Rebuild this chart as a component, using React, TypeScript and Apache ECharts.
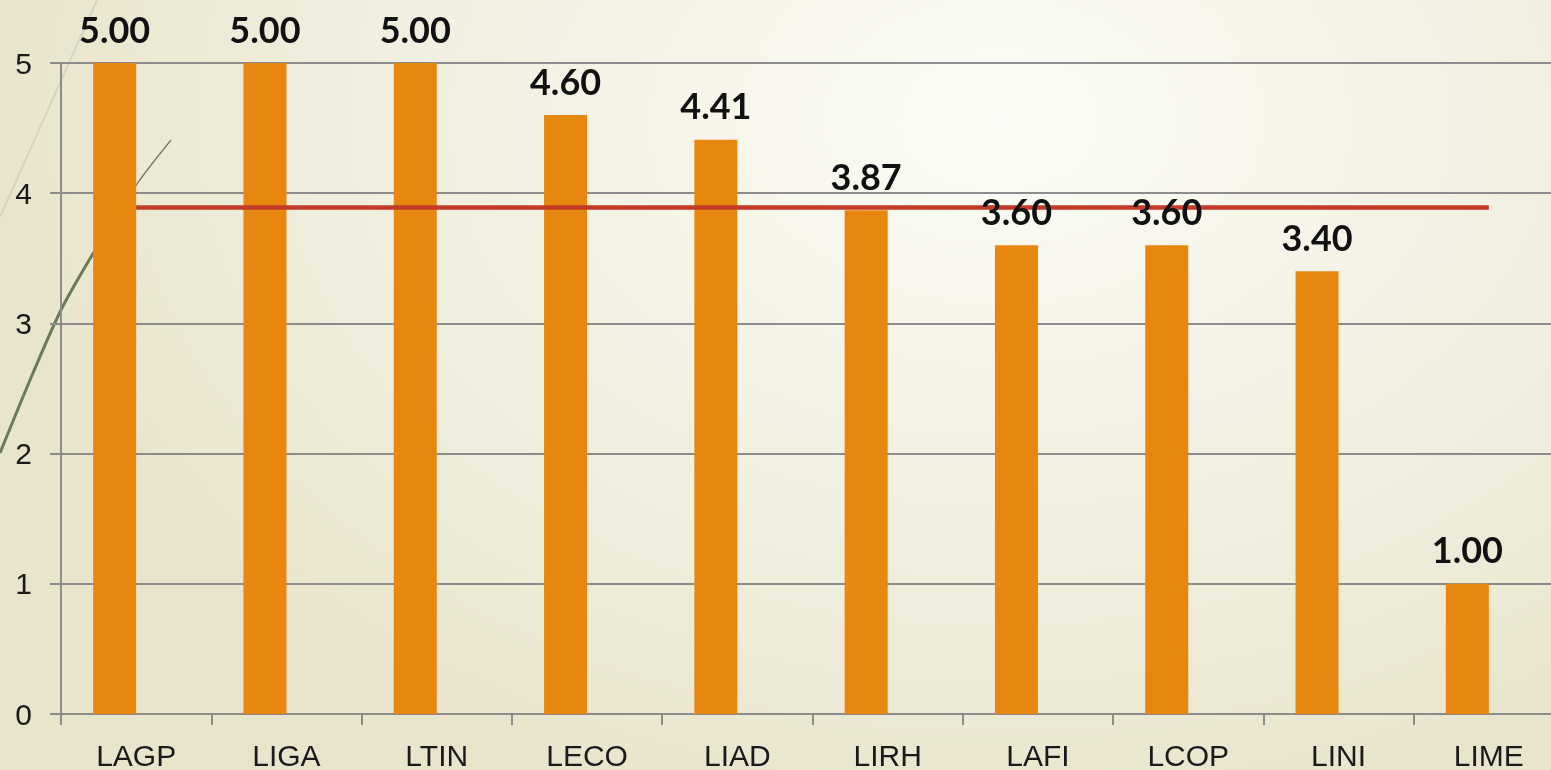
import React, { useEffect, useRef } from "react";
import * as echarts from "echarts";

const categories = ["LAGP", "LIGA", "LTIN", "LECO", "LIAD", "LIRH", "LAFI", "LCOP", "LINI", "LIME"];
const scores = [5.0, 5.0, 5.0, 4.6, 4.41, 3.87, 3.6, 3.6, 3.4, 1.0];
const averageValue = 3.89;
const averageLine = categories.map(() => averageValue);
const emptySlot = categories.map(() => null);
const yTicks = [0, 1, 2, 3, 4, 5];

export default function App() {
  const ref = useRef<HTMLDivElement>(null);

  useEffect(() => {
    if (!ref.current) return;
    const chart = echarts.init(ref.current, undefined, { renderer: "svg" });
    const axisFont = "'Liberation Sans', Arial, sans-serif";
    const labelFont = "Lato, 'DejaVu Sans', sans-serif";
    const barWidth = 43;
    chart.setOption({
      animation: false,
      backgroundColor: "transparent",
      grid: { left: 61, top: 63, right: 36, bottom: 56, containLabel: false },
      graphic: [
        {
          type: "line",
          z: 0,
          silent: true,
          shape: { x1: 97, y1: 0, x2: 0, y2: 217 },
          style: { stroke: "#D2D5C2", lineWidth: 2 },
        },
        {
          type: "polyline",
          z: 0,
          silent: true,
          shape: {
            points: [
              [171, 140],
              [137, 184],
              [94, 252],
            ],
            smooth: 0.3,
          },
          style: { stroke: "#6B7A58", lineWidth: 1.2, fill: null },
        },
        {
          type: "polyline",
          z: 0,
          silent: true,
          shape: {
            points: [
              [94, 252],
              [62, 308],
              [33, 373],
              [0, 453],
            ],
            smooth: 0.3,
          },
          style: { stroke: "#6B7A58", lineWidth: 3, fill: null },
        },
      ],
      xAxis: {
        type: "category",
        data: categories,
        boundaryGap: true,
        axisLine: { show: true, lineStyle: { color: "#8C8C8C", width: 2 } },
        axisTick: { show: true, length: 11, interval: 0, lineStyle: { color: "#8C8C8C", width: 2 } },
        axisLabel: { color: "#1A1A1A", fontSize: 30, fontFamily: axisFont, margin: 26, interval: 0 },
        splitLine: { show: false },
      },
      yAxis: {
        type: "value",
        min: yTicks[0],
        max: yTicks[yTicks.length - 1],
        interval: 1,
        axisLine: { show: true, lineStyle: { color: "#8C8C8C", width: 2 } },
        axisTick: { show: true, length: 11, lineStyle: { color: "#8C8C8C", width: 2 } },
        axisLabel: { color: "#1A1A1A", fontSize: 30, fontFamily: axisFont, margin: 29 },
        splitLine: { show: true, lineStyle: { color: "#8C8C8C", width: 2 } },
      },
      series: [
        {
          name: "Puntaje",
          type: "bar",
          data: scores,
          barWidth: barWidth,
          barGap: "0%",
          itemStyle: { color: "#E8870F" },
          z: 3,
        },
        {
          name: "Vacío",
          type: "bar",
          data: emptySlot,
          barWidth: barWidth,
          barGap: "0%",
          itemStyle: { color: "transparent" },
          silent: true,
        },
        {
          name: "Promedio",
          type: "line",
          data: averageLine,
          symbol: "none",
          showSymbol: false,
          z: 4,
          lineStyle: {
            color: "#C23B26",
            width: 4.5,
          },
        },
        {
          name: "Etiquetas",
          type: "scatter",
          data: scores,
          symbolSize: 1,
          itemStyle: { color: "transparent", opacity: 1 },
          z: 10,
          silent: true,
          label: {
            show: true,
            position: "top",
            distance: 16,
            offset: [-barWidth / 2, 0],
            formatter: (p: any) => Number(p.value).toFixed(2),
            color: "#111111",
            opacity: 1,
            fontSize: 36,
            fontWeight: "bold",
            fontFamily: labelFont,
          },
        },
      ],
    });
    return () => chart.dispose();
  }, []);

  return (
    <div
      style={{
        position: "fixed",
        left: 0,
        top: 0,
        width: 1551,
        height: 770,
        overflow: "hidden",
        background:
          "radial-gradient(ellipse 1000px 700px at 1000px 120px, #FCFCF6 0%, #F6F4E8 35%, #EFEDDB 70%, #E9E5CD 100%)",
      }}
    >
      <div ref={ref} style={{ width: 1600, height: 770 }} />
    </div>
  );
}
